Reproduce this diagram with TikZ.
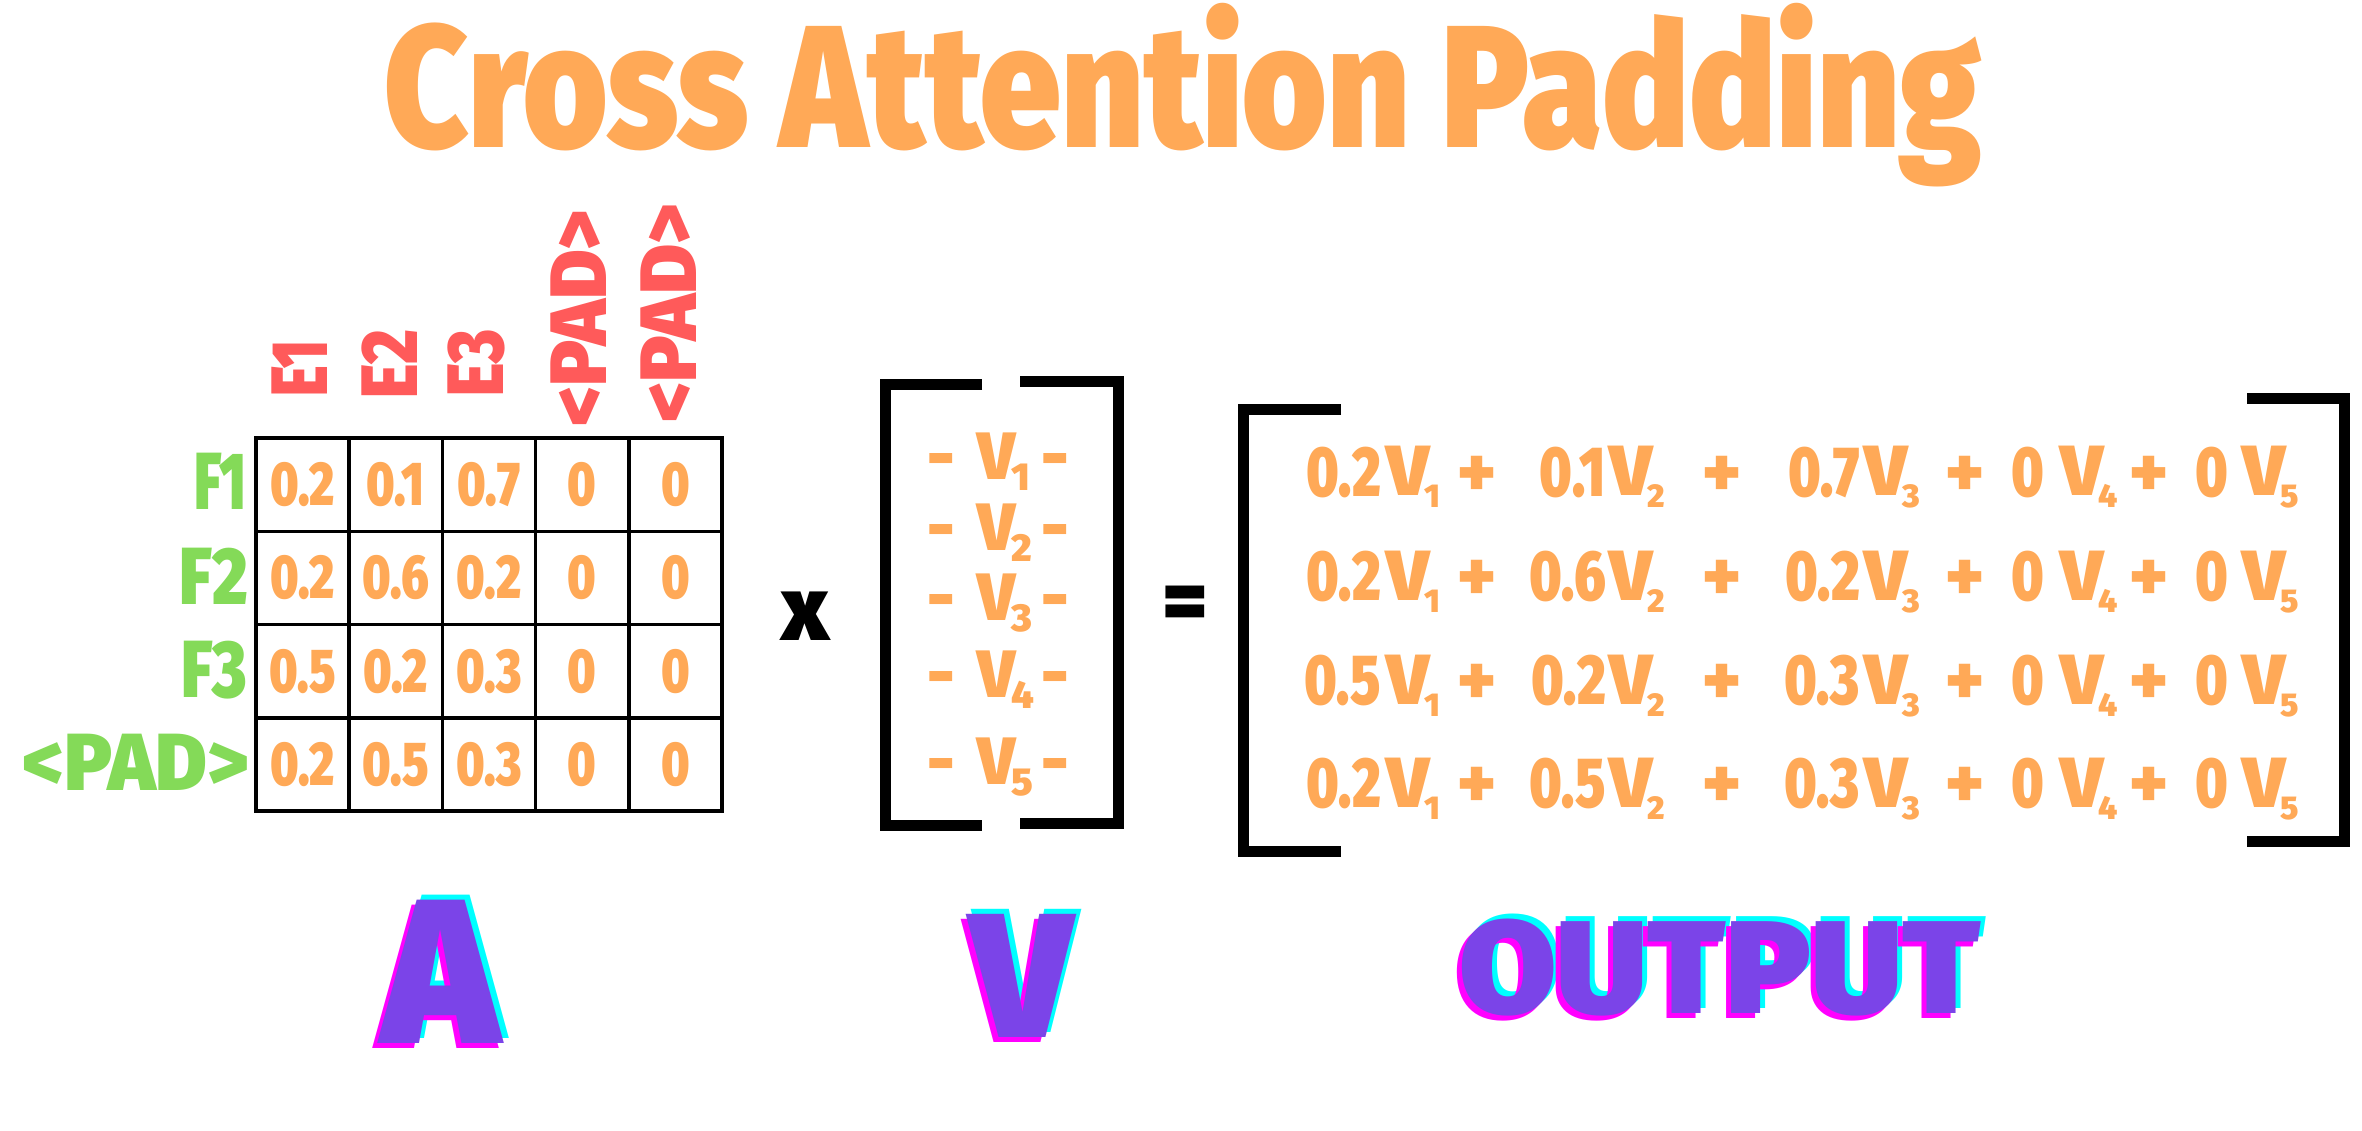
\documentclass[tikz,border=0pt]{standalone}
\usepackage{fontspec}
\usepackage{graphicx}
\newfontfamily\dispfont{Fira Sans Black}[FakeStretch=0.77]
\newfontfamily\widefont{Fira Sans Black}
\newcommand\fsz[1]{\fontsize{#1}{#1}\selectfont}
\newcommand\fitw[2]{\resizebox{#1}{\height}{#2}}
\definecolor{orng}{HTML}{FFA957}
\definecolor{redl}{HTML}{FF5A5A}
\definecolor{grnl}{HTML}{84DA58}
\definecolor{purp}{HTML}{7B44E8}
\definecolor{cyn}{HTML}{00FFFF}
\definecolor{mgt}{HTML}{FF00FF}
\newcommand\Vm[1]{\fitw{38pt}{V}\kern-4pt\raisebox{-11pt}{\fsz{39}#1}}
\newcommand\Vo[1]{\fitw{43pt}{V}\kern-5pt\raisebox{-12pt}{\fsz{33}#1}}
\newcommand\glitch[1]{\rlap{\kern5pt\raisebox{5pt}{\textcolor{cyn}{#1}}}\rlap{\kern-5pt\raisebox{-5pt}{\textcolor{mgt}{#1}}}\textcolor{purp}{#1}}
\begin{document}
\begin{tikzpicture}[x=1pt,y=-1pt,
  txt/.style={inner sep=0pt, outer sep=0pt},
  cell/.style={txt, text=orng, font=\dispfont\fsz{62}},
  gridline/.style={line width=3.5pt, black, line cap=rect},
  collab/.style={txt, rotate=90, anchor=west, text=redl, font=\widefont\fsz{80}},
  rowlab/.style={txt, anchor=base east, text=grnl, font=\widefont\fsz{81}},
  vent/.style={txt, anchor=base west, text=orng, font=\widefont\fsz{67}},
  vdash/.style={txt, anchor=base, text=orng, font=\widefont\fsz{67}},
  coef/.style={txt, anchor=base east, text=orng, font=\dispfont\fsz{71}},
  vout/.style={txt, anchor=base west, text=orng, font=\widefont\fsz{71}},
  plus/.style={txt, anchor=base, text=orng, font=\widefont\fsz{71}},
  brk/.style={line width=11pt, black, line cap=butt, line join=miter},
  biglab/.style={txt, anchor=base},
]
\fill[white] (0,0) rectangle (2362,1131);
\useasboundingbox (0,0) rectangle (2362,1131);

% title
\node[txt, anchor=base, text=orng, font=\widefont\fsz{174}] (title) at (1183.5,148) {\fitw{1597pt}{Cross Attention Padding}};

% column labels
\node[collab] (e1) at (300,397) {\fitw{57pt}{E1}};
\node[collab] (e2) at (390,399) {\fitw{69pt}{E2}};
\node[collab] (e3) at (476,397) {\fitw{67pt}{E3}};
\node[collab] (p1) at (579,427) {\fitw{217pt}{<PAD>}};
\node[collab] (p2) at (669,423) {\fitw{219pt}{<PAD>}};

% row labels
\node[rowlab] (f1) at (247,510) {\fitw{53pt}{F1}};
\node[rowlab] (f2) at (248,604) {\fitw{68pt}{F2}};
\node[rowlab] (f3) at (247,697) {\fitw{66pt}{F3}};
\node[rowlab] (fp) at (249,790) {\fitw{226pt}{<PAD>}};

% attention grid lines
\foreach \gx in {256,349.2,442.4,535.6,628.8,722}{
  \draw[gridline] (\gx,438) -- (\gx,811);
}
\foreach \gy in {438,531.25,624.5,717.75,811}{
  \draw[gridline] (256,\gy) -- (722,\gy);
}
% attention values
\node[cell] (c11) at (302.6,484.6) {0.2};
\node[cell] (c12) at (395.8,484.6) {0.1};
\node[cell] (c13) at (489.0,484.6) {0.7};
\node[cell] (c14) at (582.2,484.6) {0};
\node[cell] (c15) at (675.4,484.6) {0};
\node[cell] (c21) at (302.6,577.9) {0.2};
\node[cell] (c22) at (395.8,577.9) {0.6};
\node[cell] (c23) at (489.0,577.9) {0.2};
\node[cell] (c24) at (582.2,577.9) {0};
\node[cell] (c25) at (675.4,577.9) {0};
\node[cell] (c31) at (302.6,671.1) {0.5};
\node[cell] (c32) at (395.8,671.1) {0.2};
\node[cell] (c33) at (489.0,671.1) {0.3};
\node[cell] (c34) at (582.2,671.1) {0};
\node[cell] (c35) at (675.4,671.1) {0};
\node[cell] (c41) at (302.6,764.3) {0.2};
\node[cell] (c42) at (395.8,764.3) {0.5};
\node[cell] (c43) at (489.0,764.3) {0.3};
\node[cell] (c44) at (582.2,764.3) {0};
\node[cell] (c45) at (675.4,764.3) {0};

% times
\node[txt, font=\widefont\fsz{91}] (times) at (806,616) {x};

% V matrix brackets
\draw[brk] (982,385) -- (885,385) -- (885,825) -- (982,825);
\draw[brk] (1020,382) -- (1118,382) -- (1118,823) -- (1020,823);

% V entries
\foreach \i/\y in {1/479, 2/550, 3/620, 4/697, 5/784}{
  \node[vdash] (vl\i) at (941,\y) {-};
  \node[vent] (v\i) at (977,\y) {\Vm{\i}};
  \node[vdash] (vr\i) at (1055.5,\y) {-};
}

% equals
\node[txt, anchor=base, font=\widefont\fsz{86}] (eq) at (1185,630) {=};

% output brackets
\draw[brk] (1341,409.5) -- (1243.5,409.5) -- (1243.5,851.5) -- (1341,851.5);
\draw[brk] (2247,398.5) -- (2344,398.5) -- (2344,841) -- (2247,841);

% output rows
\foreach \r/\y/\a/\b/\c in {1/496/0.2/0.1/0.7, 2/600/0.2/0.6/0.2, 3/704/0.5/0.2/0.3, 4/807/0.2/0.5/0.3}{
  \node[coef] (o\r a) at (1381,\y) {\a};
  \node[vout] (o\r va) at (1386,\y) {\Vo{1}};
  \node[plus] (o\r p1) at (1477,\y) {+};
  \node[coef] (o\r b) at (1606,\y) {\b};
  \node[vout] (o\r vb) at (1609,\y) {\Vo{2}};
  \node[plus] (o\r p2) at (1722,\y) {+};
  \node[coef] (o\r c) at (1860,\y) {\c};
  \node[vout] (o\r vc) at (1864,\y) {\Vo{3}};
  \node[plus] (o\r p3) at (1965,\y) {+};
  \node[coef] (o\r d) at (2044,\y) {0};
  \node[vout] (o\r vd) at (2060,\y) {\Vo{4}};
  \node[plus] (o\r p4) at (2149,\y) {+};
  \node[coef] (o\r e) at (2228,\y) {0};
  \node[vout] (o\r ve) at (2242,\y) {\Vo{5}};
}

% bottom labels with glitch shadow
\node[biglab, font=\widefont\fsz{206}] (labA) at (441,1043) {\glitch{\fitw{117pt}{A}}};
\node[biglab, font=\widefont\fsz{177}] (labV) at (1021,1037) {\glitch{\fitw{102pt}{V}}};
\node[biglab, font=\widefont\fsz{132}] (labO) at (1720,1013) {\glitch{\fitw{521pt}{OUTPUT}}};
\end{tikzpicture}
\end{document}
